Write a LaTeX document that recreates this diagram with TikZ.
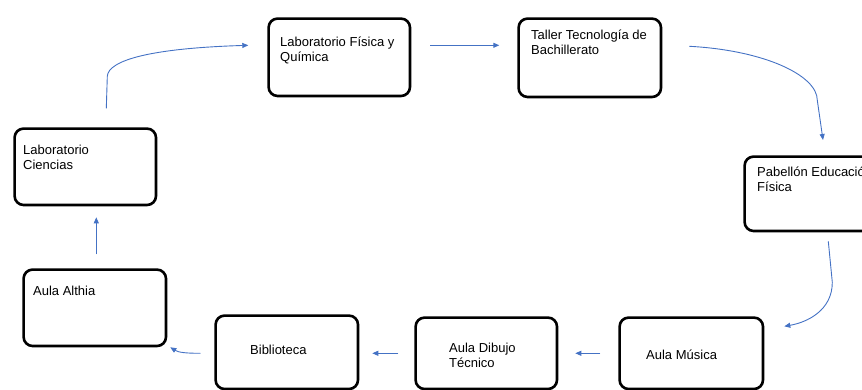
\documentclass[tikz,border=0pt]{standalone}
\usepackage{fontspec}
\setmainfont{Liberation Sans}
\usetikzlibrary{arrows.meta,calc}
\definecolor{linkblue}{HTML}{4472C4}

\tikzset{
	room/.style={draw, rounded corners=9pt, line width=2.6pt, inner sep=0pt, anchor=north west},
	roomtext/.style={anchor=north west, inner sep=0pt, align=left, font=\fontsize{13}{14.5}\selectfont},
	link/.style={draw=linkblue, line width=0.9pt, -{Triangle[length=6pt,width=5pt]}}
}

\begin{document}
\begin{tikzpicture}[x=1pt, y=-1pt]

\clip (0,0) rectangle (862,390);

% rooms
\node[room, minimum width=141.4pt, minimum height=77.4pt] (lfq) at (267.3,17.3) {};
\node[room, minimum width=142.4pt, minimum height=78.4pt] (ttb) at (517.3,17.3) {};
\node[room, minimum width=142.4pt, minimum height=74.4pt] (pef) at (743.3,155.3) {};
\node[room, minimum width=143.4pt, minimum height=71.4pt] (am) at (618.3,316.3) {};
\node[room, minimum width=141.4pt, minimum height=71.4pt] (adt) at (414.3,316.3) {};
\node[room, minimum width=142.4pt, minimum height=73.4pt] (bib) at (214.3,314.3) {};
\node[room, minimum width=142.4pt, minimum height=76.4pt] (aa) at (22.3,268.3) {};
\node[room, minimum width=141.4pt, minimum height=76.4pt] (lc) at (13.3,127.3) {};

\node[roomtext] (lfqtext) at ($(lfq.north west)+(12.7,19.7)$) {Laboratorio Física y\\Química};
\node[roomtext] (ttbtext) at ($(ttb.north west)+(13.7,12.7)$) {Taller Tecnología de\\Bachillerato};
\node[roomtext] (peftext) at ($(pef.north west)+(13.7,11.7)$) {Pabellón Educación\\Física};
\node[roomtext] (amtext) at ($(am.north west)+(27.7,33.7)$) {Aula Música};
\node[roomtext] (adttext) at ($(adt.north west)+(34.7,26.7)$) {Aula Dibujo\\Técnico};
\node[roomtext] (bibtext) at ($(bib.north west)+(35.7,30.7)$) {Biblioteca};
\node[roomtext] (aatext) at ($(aa.north west)+(10.7,17.7)$) {Aula Althia};
\node[roomtext] (lctext) at ($(lc.north west)+(9.7,17.7)$) {Laboratorio\\Ciencias};

% route
\draw[link] ($(lc.north west)+(93,-19)$) -- ++(1,-32) .. controls +(1,-16) and +(-98,3) .. ($(lfq.north west)+(-19,28)$);
\draw[link] ($(lfq.north east)+(19,28)$) -- ($(ttb.north west)+(-18,28)$);
\draw[link] ($(ttb.north east)+(27,29)$) .. controls +(75,4) and +(0,-25) .. ($(pef.north west)+(74,-55)$) -- ($(pef.north west)+(79.7,-15.3)$);
\draw[link] ($(pef.south west)+(85,9)$) -- ++(4,41) .. controls +(0,28) and +(23,-4) .. ($(am.north east)+(20,10)$);
\draw[link] ($(am.north west)+(-18,37)$) -- ($(adt.north east)+(17,37)$);
\draw[link] ($(adt.north west)+(-16,37)$) -- ($(bib.north east)+(13,39)$);
\draw[link] ($(bib.north west)+(-14,39)$) .. controls +(-15,0) and +(8,5) .. ($(aa.south east)+(3,0)$);
\draw[link] ($(aa.north west)+(74,-14)$) -- ($(lc.south west)+(83,11)$);

\end{tikzpicture}
\end{document}
